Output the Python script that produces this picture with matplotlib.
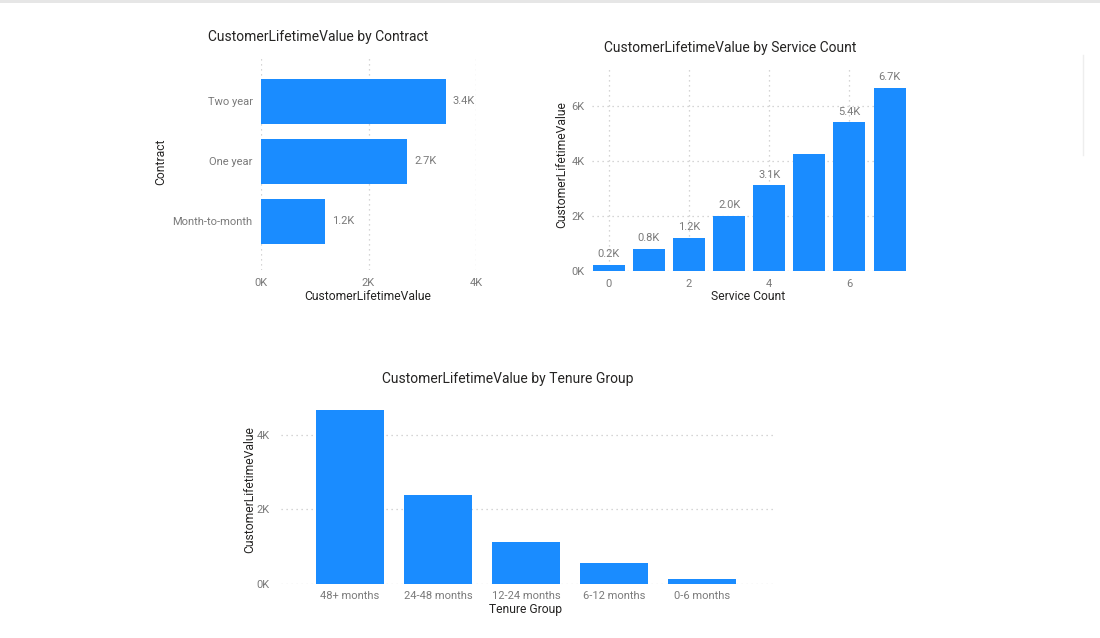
import matplotlib
matplotlib.use("Agg")
import matplotlib.pyplot as plt
from matplotlib.ticker import FuncFormatter, FixedLocator

plt.rcParams['font.family'] = ['Roboto', 'DejaVu Sans']

# ---------------- data ----------------
contract_cats = ["Month-to-month", "One year", "Two year"]
contract_vals = [1.19, 2.72, 3.44]          # thousands

service_counts = [0, 1, 2, 3, 4, 5, 6, 7]
service_vals = [0.22, 0.80, 1.20, 2.00, 3.11, 4.24, 5.41, 6.67]  # thousands
service_show_label = [True, True, True, True, True, False, True, True]

tenure_cats = ["48+ months", "24-48 months", "12-24 months", "6-12 months", "0-6 months"]
tenure_vals = [4.67, 2.39, 1.13, 0.56, 0.13]  # thousands

# ---------------- style ----------------
W, H = 1100, 638
BAR = "#1A8CFF"
TICK = "#7A7A7A"
DARK = "#252423"
GRID = "#C8C8C8"

fig = plt.figure(figsize=(W / 100, H / 100), dpi=100)
fig.patch.set_facecolor("white")

def ax_rect(x0, y0, x1, y1):
    return [x0 / W, 1 - y1 / H, (x1 - x0) / W, (y1 - y0) / H]

def ftext(x, y, s, **kw):
    fig.text(x / W, 1 - y / H, s, **kw)

kfmt = FuncFormatter(lambda v, p: f"{v:.0f}K")

def clean(ax):
    for s in ax.spines.values():
        s.set_visible(False)
    ax.tick_params(length=0, colors=TICK, labelsize=8)
    ax.set_facecolor("white")

# top border strip
fig.add_artist(plt.Rectangle((0, 1 - 3 / H), 1, 3 / H, transform=fig.transFigure,
                             color="#E6E6E6", lw=0))
fig.add_artist(plt.Line2D([1083 / W, 1083 / W], [1 - 55 / H, 1 - 155 / H],
                          transform=fig.transFigure, color="#EEEEEE", lw=1))

# ---------------- chart 1: contract ----------------
ax1 = fig.add_axes(ax_rect(261, 56.7, 476, 270))
pos1 = list(range(len(contract_cats)))
ax1.barh(pos1, contract_vals, height=0.75, color=BAR, zorder=3)
ax1.set_xlim(0, 4.0)
ax1.set_ylim(-0.81, 2.74)
ax1.xaxis.set_major_locator(FixedLocator([0, 2, 4]))
ax1.xaxis.set_major_formatter(kfmt)
ax1.set_yticks(pos1)
ax1.set_yticklabels(contract_cats)
clean(ax1)
ax1.tick_params(axis="x", pad=6)
ax1.tick_params(axis="y", pad=6)
ax1.grid(axis="x", linestyle=(0, (1, 3)), color=GRID, lw=0.9, zorder=0)
for p, v in zip(pos1, contract_vals):
    ax1.annotate(f"{v:.1f}K", (v, p), xytext=(5, 0), textcoords="offset points",
                 va="center", ha="left", fontsize=8, color=TICK)
ftext(318, 37, "CustomerLifetimeValue by Contract", ha="center", va="center",
      fontsize=10, color=DARK)
ftext(368, 296, "CustomerLifetimeValue", ha="center", va="center", fontsize=8.7, color=DARK)
ftext(161, 162, "Contract", ha="center", va="center", fontsize=8.7, color=DARK, rotation=90)

# ---------------- chart 2: service count ----------------
ax2 = fig.add_axes(ax_rect(591.5, 68, 906, 270.7))
ax2.bar(service_counts, service_vals, width=0.8, color=BAR, zorder=3)
ax2.set_xlim(-0.43, 7.41)
ax2.set_ylim(0, 7.38)
ax2.xaxis.set_major_locator(FixedLocator([0, 2, 4, 6]))
ax2.yaxis.set_major_locator(FixedLocator([0, 2, 4, 6]))
ax2.yaxis.set_major_formatter(kfmt)
clean(ax2)
ax2.tick_params(axis="x", pad=6)
ax2.tick_params(axis="y", pad=5)
ax2.grid(True, linestyle=(0, (1, 3)), color=GRID, lw=0.9, zorder=0)
for x, v, show in zip(service_counts, service_vals, service_show_label):
    if show:
        ax2.annotate(f"{v:.1f}K", (x, v), xytext=(0, 4), textcoords="offset points",
                     ha="center", va="bottom", fontsize=8, color=TICK)
ftext(730, 48, "CustomerLifetimeValue by Service Count", ha="center", va="center",
      fontsize=10, color=DARK)
ftext(748, 296, "Service Count", ha="center", va="center", fontsize=8.7, color=DARK)
ftext(562, 165, "CustomerLifetimeValue", ha="center", va="center", fontsize=8.7,
      color=DARK, rotation=90)

# ---------------- chart 3: tenure group ----------------
ax3 = fig.add_axes(ax_rect(280.8, 407, 772.9, 584))
pos3 = list(range(len(tenure_cats)))
ax3.bar(pos3, tenure_vals, width=0.77, color=BAR, zorder=3)
ax3.set_xlim(-0.785, 4.80)
ax3.set_ylim(0, 4.75)
ax3.set_xticks(pos3)
ax3.set_xticklabels(tenure_cats)
ax3.yaxis.set_major_locator(FixedLocator([0, 2, 4]))
ax3.yaxis.set_major_formatter(kfmt)
clean(ax3)
ax3.tick_params(axis="x", pad=5)
ax3.tick_params(axis="y", pad=8)
ax3.grid(axis="y", linestyle=(0, (1, 3)), color=GRID, lw=0.9, zorder=0)
ftext(508, 379, "CustomerLifetimeValue by Tenure Group", ha="center", va="center",
      fontsize=10, color=DARK)
ftext(526, 609, "Tenure Group", ha="center", va="center", fontsize=8.7, color=DARK)
ftext(250, 490, "CustomerLifetimeValue", ha="center", va="center", fontsize=8.7,
      color=DARK, rotation=90)

fig.savefig("out.png", dpi=100, facecolor="white")
